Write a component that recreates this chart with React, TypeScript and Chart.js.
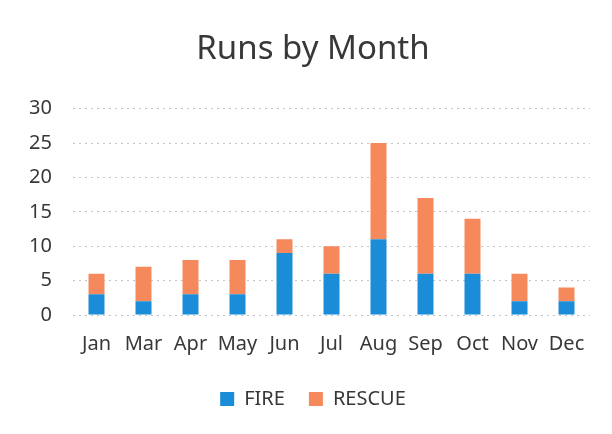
import React, { useEffect, useRef } from "react";
import { Chart, registerables } from "chart.js";

Chart.register(...registerables);

const categories = ["Jan", "Mar", "Apr", "May", "Jun", "Jul", "Aug", "Sep", "Oct", "Nov", "Dec"];
const fireValues = [3, 2, 3, 3, 9, 6, 11, 6, 6, 2, 2];
const rescueValues = [3, 5, 5, 5, 2, 4, 14, 11, 8, 4, 2];
const yTicks = [0, 5, 10, 15, 20, 25, 30];

const FONT = "'Noto Sans', 'Open Sans', sans-serif";

export default function App() {
  const ref = useRef<HTMLCanvasElement | null>(null);
  useEffect(() => {
    document.body.style.margin = "0";
    const ctx = ref.current!;
    const chart = new Chart(ctx, {
      type: "bar",
      data: {
        labels: categories,
        datasets: [
          {
            label: "FIRE",
            data: fireValues,
            backgroundColor: "#1a8cd8",
            barPercentage: 0.68,
            categoryPercentage: 0.5,
          },
          {
            label: "RESCUE",
            data: rescueValues,
            backgroundColor: "#f5895c",
            barPercentage: 0.68,
            categoryPercentage: 0.5,
          },
        ],
      },
      options: {
        animation: false,
        responsive: false,
        layout: { padding: { left: 14, right: 0, top: 0, bottom: 15 } },
        plugins: {
          title: {
            display: true,
            text: "Runs by Month",
            color: "#383838",
            font: { family: FONT, size: 33, weight: "normal" },
            padding: { top: 30, bottom: 39 },
          },
          legend: {
            position: "bottom",
            labels: {
              color: "#383838",
              font: { family: FONT, size: 20 },
              boxWidth: 14,
              boxHeight: 14,
              padding: 24,
            },
          },
          tooltip: { enabled: false },
        },
        scales: {
          x: {
            stacked: true,
            grid: { display: false },
            border: { display: false },
            ticks: {
              color: "#383838",
              font: { family: FONT, size: 20 },
              padding: 9,
              maxRotation: 0,
              minRotation: 0,
              autoSkip: false,
            },
          },
          y: {
            stacked: true,
            min: 0,
            max: 30,
            afterBuildTicks: (axis: any) => {
              axis.ticks = yTicks.map((v) => ({ value: v }));
            },
            afterFit: (axis: any) => {
              axis.width = 59;
            },
            grid: { color: "#c4c4c4", lineWidth: 1, tickLength: 0 },
            border: { display: false, dash: [2, 4] },
            ticks: { color: "#383838", font: { family: FONT, size: 20 }, padding: 21 },
          },
          yRight: {
            position: "right",
            display: true,
            grid: { display: false },
            border: { display: false },
            ticks: { display: false },
            afterFit: (axis: any) => {
              axis.width = 22;
            },
          },
        },
      },
    });
    return () => chart.destroy();
  }, []);
  return (
    <div style={{ width: 612, height: 434, background: "#fff" }}>
      <canvas ref={ref} width={612} height={434} />
    </div>
  );
}
